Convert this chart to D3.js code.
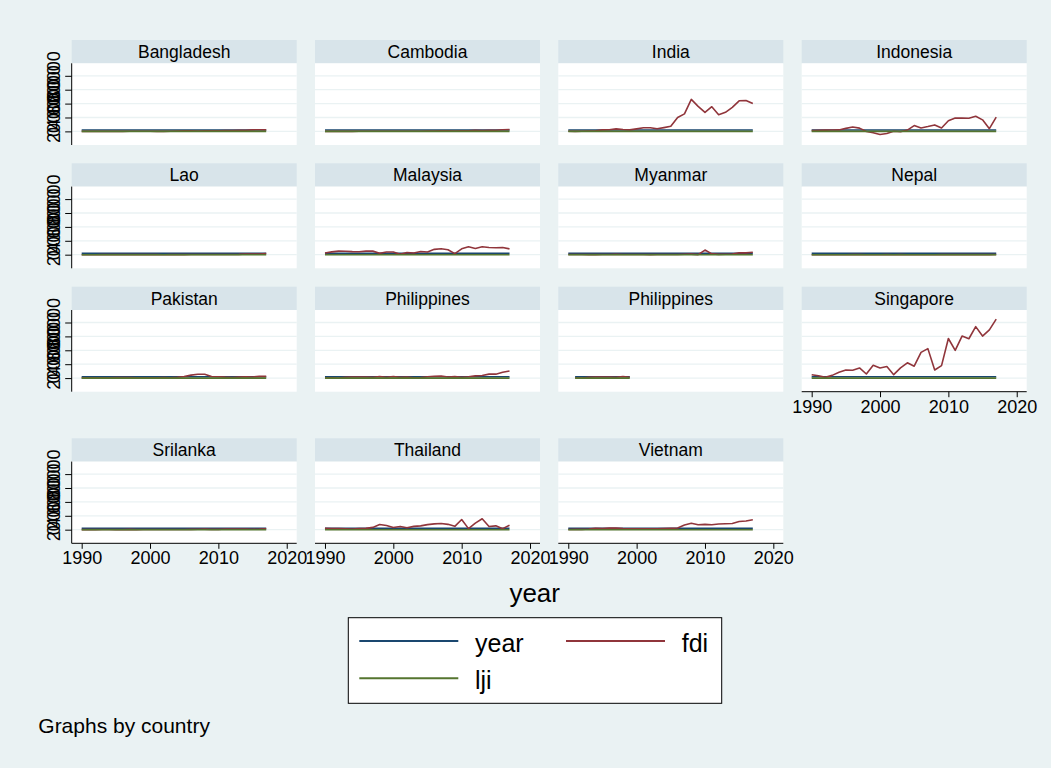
<!DOCTYPE html>
<html>
<head>
<meta charset="utf-8">
<script src="https://cdn.jsdelivr.net/npm/d3@7"></script>
<style>
  html, body { margin: 0; padding: 0; background: #eaf2f3; }
  svg { display: block; font-family: "Liberation Sans", Arial, sans-serif; }
</style>
</head>
<body>
<svg id="chart" width="1051" height="768"></svg>
<script>
// ---- data -------------------------------------------------------------
const countries = ["Bangladesh", "Cambodia", "India", "Indonesia", "Lao", "Malaysia", "Myanmar",
  "Nepal", "Pakistan", "Philippines", "Philippines", "Singapore", "Srilanka", "Thailand", "Vietnam"];

const years = [1990, 1991, 1992, 1993, 1994, 1995, 1996, 1997, 1998, 1999, 2000, 2001, 2002, 2003,
  2004, 2005, 2006, 2007, 2008, 2009, 2010, 2011, 2012, 2013, 2014, 2015, 2016, 2017];
const yearsShort = [1991, 1992, 1993, 1994, 1995, 1996, 1997, 1998, 1999];

// FDI net inflows (US$ millions)
const fdiBangladesh = [3, 1, 4, 14, 11, 2, 14, 139, 190, 180, 280, 79, 52, 268, 449, 813, 697, 652, 1011, 700, 913, 1136, 1293, 1599, 1551, 2235, 2333, 2152];
const fdiCambodia = [0, 0, 33, 54, 69, 151, 294, 168, 243, 232, 149, 149, 145, 84, 131, 381, 483, 867, 815, 539, 783, 902, 1447, 1345, 1720, 1701, 2280, 2788];
const fdiIndia = [240, 75, 280, 550, 970, 2140, 2430, 3580, 2630, 2170, 3580, 5130, 5210, 3680, 5430, 7270, 20030, 25230, 46000, 36000, 27400, 35500, 24000, 27500, 34600, 44000, 44500, 40000];
const fdiIndonesia = [1100, 1480, 1780, 2000, 2110, 4350, 6190, 4680, -240, -1870, -4550, -2980, 150, -600, 1900, 8340, 4910, 6930, 9320, 4880, 15300, 19200, 19100, 18800, 21700, 16600, 3900, 20500];
const fdiLao = [6, 7, 8, 30, 59, 88, 128, 86, 45, 52, 34, 24, 5, 19, 17, 28, 187, 324, 228, 190, 279, 301, 294, 427, 913, 1079, 935, 1693];
const fdiMalaysia = [2330, 4000, 5180, 5000, 4340, 4180, 5080, 5140, 2160, 3900, 3790, 550, 3200, 2470, 4620, 3970, 7690, 8590, 7170, 1450, 8500, 11500, 9000, 11400, 10400, 9900, 10400, 8400];
const fdiMyanmar = [160, 240, 170, 150, 90, 280, 310, 390, 320, 260, 260, 210, 150, 250, 210, 240, 280, 710, 860, 30, 6670, 1120, 500, 580, 950, 2800, 2600, 3600];
const fdiNepal = [6, 2, 4, 0, 7, 1, 19, 23, 12, 4, 0, 21, 6, 15, 0, 2, -7, 6, 1, 39, 88, 94, 92, 71, 30, 52, 106, 198];
const fdiPakistan = [245, 258, 336, 349, 421, 723, 922, 716, 506, 532, 308, 383, 823, 534, 1118, 2201, 4273, 5590, 5438, 2338, 2022, 1326, 859, 1333, 1867, 1621, 2488, 2496];
const fdiPhilippines = [530, 544, 228, 1238, 1591, 1478, 1517, 1261, 2287, 1247, 2240, 982, 1542, 492, 688, 1854, 2707, 2919, 1544, 2065, 1298, 2007, 3215, 3737, 5740, 5639, 8280, 10256];
const fdiPhilippines2 = [544, 228, 1238, 1591, 1478, 1517, 1261, 2287, 1247];
const fdiSingapore = [4900, 3400, 1000, 3900, 8300, 11700, 11200, 14600, 5900, 18500, 14600, 16600, 4900, 14600, 22000, 17100, 37000, 42400, 11700, 18000, 57000, 40000, 60500, 56600, 74100, 60500, 69300, 84900];
const fdiSrilanka = [43, 48, 123, 195, 166, 65, 133, 433, 150, 201, 173, 172, 197, 229, 233, 272, 480, 603, 752, 404, 478, 956, 941, 933, 894, 680, 897, 1373];
const fdiThailand = [2000, 1500, 1800, 1400, 900, 1500, 1900, 3300, 7400, 6000, 3100, 4700, 2800, 4800, 5500, 7300, 8400, 8800, 7700, 4800, 14600, 1500, 9500, 15700, 4600, 5500, 1500, 6500];
const fdiVietnam = [180, 380, 470, 930, 1940, 1780, 2400, 2220, 1670, 1410, 1300, 1300, 1400, 1450, 1610, 1950, 2400, 6700, 9300, 7000, 7600, 7100, 8100, 8500, 9000, 11700, 12600, 14300];

// lji index
const ljiBangladesh = [2.1, 2.1, 2.2, 2.2, 2.3, 2.3, 2.4, 2.4, 2.5, 2.5, 2.6, 2.6, 2.7, 2.7, 2.8, 2.8, 2.9, 2.9, 3.0, 3.0, 3.1, 3.1, 3.2, 3.2, 3.3, 3.3, 3.4, 3.4];
const ljiCambodia = [1.2, 1.2, 1.3, 1.3, 1.4, 1.5, 1.5, 1.6, 1.6, 1.7, 1.8, 1.8, 1.9, 2.0, 2.0, 2.1, 2.2, 2.3, 2.3, 2.4, 2.5, 2.5, 2.6, 2.7, 2.7, 2.8, 2.9, 2.9];
const ljiIndia = [3.0, 3.0, 3.1, 3.1, 3.2, 3.2, 3.3, 3.3, 3.4, 3.4, 3.5, 3.5, 3.6, 3.6, 3.7, 3.7, 3.8, 3.8, 3.9, 3.9, 4.0, 4.0, 4.1, 4.1, 4.2, 4.2, 4.3, 4.3];
const ljiIndonesia = [2.6, 2.6, 2.7, 2.7, 2.8, 2.8, 2.8, 2.7, 2.5, 2.6, 2.7, 2.8, 2.9, 3.0, 3.1, 3.2, 3.3, 3.4, 3.5, 3.5, 3.6, 3.7, 3.7, 3.8, 3.9, 3.9, 4.0, 4.0];
const ljiLao = [1.0, 1.0, 1.1, 1.1, 1.2, 1.2, 1.3, 1.3, 1.3, 1.4, 1.4, 1.5, 1.5, 1.6, 1.6, 1.7, 1.8, 1.8, 1.9, 1.9, 2.0, 2.1, 2.1, 2.2, 2.2, 2.3, 2.3, 2.4];
const ljiMalaysia = [4.1, 4.2, 4.3, 4.4, 4.5, 4.6, 4.7, 4.7, 4.5, 4.6, 4.7, 4.8, 4.9, 5.0, 5.0, 5.1, 5.2, 5.3, 5.3, 5.3, 5.4, 5.5, 5.5, 5.6, 5.7, 5.7, 5.8, 5.9];
const ljiMyanmar = [0.8, 0.8, 0.9, 0.9, 0.9, 1.0, 1.0, 1.0, 1.1, 1.1, 1.1, 1.2, 1.2, 1.2, 1.3, 1.3, 1.3, 1.4, 1.4, 1.5, 1.6, 1.7, 1.8, 1.9, 2.0, 2.1, 2.2, 2.3];
const ljiNepal = [1.5, 1.5, 1.6, 1.6, 1.6, 1.7, 1.7, 1.7, 1.8, 1.8, 1.8, 1.8, 1.9, 1.9, 1.9, 2.0, 2.0, 2.0, 2.1, 2.1, 2.2, 2.2, 2.3, 2.3, 2.4, 2.4, 2.5, 2.5];
const ljiPakistan = [2.4, 2.4, 2.5, 2.5, 2.5, 2.6, 2.6, 2.6, 2.6, 2.6, 2.7, 2.7, 2.8, 2.8, 2.9, 3.0, 3.0, 3.1, 3.1, 3.1, 3.2, 3.2, 3.3, 3.3, 3.4, 3.4, 3.5, 3.5];
const ljiPhilippines = [3.1, 3.1, 3.2, 3.2, 3.3, 3.4, 3.4, 3.5, 3.5, 3.5, 3.6, 3.6, 3.7, 3.7, 3.8, 3.8, 3.9, 3.9, 4.0, 4.0, 4.1, 4.2, 4.2, 4.3, 4.4, 4.4, 4.5, 4.6];
const ljiPhilippines2 = [3.1, 3.2, 3.2, 3.3, 3.4, 3.4, 3.5, 3.5, 3.5];
const ljiSingapore = [6.5, 6.6, 6.7, 6.8, 6.9, 7.0, 7.1, 7.1, 7.0, 7.2, 7.3, 7.3, 7.4, 7.5, 7.6, 7.7, 7.8, 7.9, 7.9, 7.9, 8.1, 8.2, 8.2, 8.3, 8.4, 8.4, 8.5, 8.6];
const ljiSrilanka = [2.7, 2.7, 2.8, 2.8, 2.9, 2.9, 3.0, 3.0, 3.1, 3.1, 3.2, 3.2, 3.3, 3.3, 3.4, 3.4, 3.5, 3.5, 3.6, 3.6, 3.7, 3.7, 3.8, 3.8, 3.9, 3.9, 4.0, 4.0];
const ljiThailand = [3.6, 3.7, 3.8, 3.9, 4.0, 4.1, 4.2, 4.1, 3.9, 4.0, 4.1, 4.2, 4.3, 4.4, 4.5, 4.6, 4.6, 4.7, 4.7, 4.7, 4.8, 4.9, 4.9, 5.0, 5.0, 5.1, 5.1, 5.2];
const ljiVietnam = [1.4, 1.5, 1.6, 1.7, 1.8, 1.9, 2.0, 2.1, 2.1, 2.2, 2.3, 2.4, 2.5, 2.6, 2.7, 2.8, 2.9, 3.0, 3.1, 3.1, 3.2, 3.3, 3.4, 3.5, 3.6, 3.7, 3.8, 3.9];

const xTicks = [1990, 2000, 2010, 2020];
const yTicks = [0, 20000, 40000, 60000, 80000];
const seriesNames = ["year", "fdi", "lji"];
const seriesColors = ["#1a476f", "#90353b", "#55752f"];

// ---- panel assembly ----------------------------------------------------
const fdiByPanel = [fdiBangladesh, fdiCambodia, fdiIndia, fdiIndonesia, fdiLao, fdiMalaysia, fdiMyanmar,
  fdiNepal, fdiPakistan, fdiPhilippines, fdiPhilippines2, fdiSingapore, fdiSrilanka, fdiThailand, fdiVietnam];
const ljiByPanel = [ljiBangladesh, ljiCambodia, ljiIndia, ljiIndonesia, ljiLao, ljiMalaysia, ljiMyanmar,
  ljiNepal, ljiPakistan, ljiPhilippines, ljiPhilippines2, ljiSingapore, ljiSrilanka, ljiThailand, ljiVietnam];

const panels = countries.map((name, i) => {
  const yrs = i === 10 ? yearsShort : years;
  return {
    name,
    idx: i,
    series: [
      yrs.map((yr) => ({ year: yr, v: yr })),
      yrs.map((yr, k) => ({ year: yr, v: fdiByPanel[i][k] })),
      yrs.map((yr, k) => ({ year: yr, v: ljiByPanel[i][k] }))
    ]
  };
});

// ---- layout ------------------------------------------------------------
const colLeft = [71.7, 315, 558.3, 801.7];
const rowTop = [40, 163.3, 286.7, 438.3];
const panelW = 225, headerH = 23.3, plotH = 81.7;
const xAxisPanels = new Set([11, 12, 13, 14]);

const svg = d3.select("#chart");
svg.append("rect").attr("width", 1051).attr("height", 768).attr("fill", "#eaf2f3");

panels.forEach((p) => {
  const row = Math.floor(p.idx / 4), col = p.idx % 4;
  const left = colLeft[col], top = rowTop[row];
  const plotTop = top + headerH, plotBottom = plotTop + plotH;

  const x = d3.scaleLinear().domain([1988.54, 2021.46]).range([left, left + panelW]);
  const y = d3.scaleLinear().domain([-19600, 98000]).range([plotBottom, plotTop]);

  const g = svg.append("g");

  // header strip with the country name
  g.append("rect").attr("x", left).attr("y", top).attr("width", panelW).attr("height", headerH)
    .attr("fill", "#d8e4ea");
  g.append("text").attr("x", left + panelW / 2).attr("y", top + headerH / 2 + 6.2)
    .attr("text-anchor", "middle").attr("font-size", 17.5).attr("fill", "#000").text(p.name);

  // plot region
  g.append("rect").attr("x", left).attr("y", plotTop).attr("width", panelW).attr("height", plotH)
    .attr("fill", "#ffffff");

  // horizontal grid
  g.selectAll(".grid").data(yTicks).join("line")
    .attr("x1", left).attr("x2", left + panelW)
    .attr("y1", (d) => y(d)).attr("y2", (d) => y(d))
    .attr("stroke", "#eaf2f3").attr("stroke-width", 1.3);

  // series lines
  const line = d3.line().x((d) => x(d.year)).y((d) => y(d.v));
  p.series.forEach((s, k) => {
    g.append("path").datum(s).attr("d", line).attr("fill", "none")
      .attr("stroke", seriesColors[k]).attr("stroke-width", 1.6).attr("stroke-linejoin", "round");
  });

  // left axis on the first column
  if (col === 0) {
    const ya = g.append("g").attr("transform", `translate(${left},0)`)
      .call(d3.axisLeft(y).tickValues(yTicks).tickSize(6.5).tickSizeOuter(0).tickFormat(d3.format("d")));
    ya.select(".domain").attr("stroke", "#000").attr("stroke-width", 1)
      .attr("d", `M0,${plotTop}V${plotBottom}`);
    ya.selectAll(".tick line").attr("stroke", "#000");
    ya.selectAll(".tick text")
      .attr("font-size", 18).attr("font-family", "Liberation Sans, Arial, sans-serif").attr("fill", "#000")
      .attr("text-anchor", "middle")
      .attr("x", null).attr("dy", null)
      .attr("transform", "translate(-11.2,0) rotate(-90)");
  }

  // bottom axis on the last panel of each column
  if (xAxisPanels.has(p.idx)) {
    const xa = g.append("g").attr("transform", `translate(0,${plotBottom})`)
      .call(d3.axisBottom(x).tickValues(xTicks).tickSize(5.5).tickSizeOuter(0).tickFormat(d3.format("d")));
    xa.select(".domain").attr("stroke", "#000").attr("stroke-width", 1)
      .attr("d", `M${left},0H${left + panelW}`);
    xa.selectAll(".tick line").attr("stroke", "#000");
    xa.selectAll(".tick text")
      .attr("font-size", 18).attr("font-family", "Liberation Sans, Arial, sans-serif").attr("fill", "#000")
      .attr("y", 21).attr("dy", null);
  }
});

// x axis title
svg.append("text").attr("x", 534.7).attr("y", 601.5).attr("text-anchor", "middle")
  .attr("font-size", 26).attr("fill", "#000").text("year");

// legend
const legend = svg.append("g");
legend.append("rect").attr("x", 348.3).attr("y", 617.7).attr("width", 373.4).attr("height", 85.6)
  .attr("fill", "#ffffff").attr("stroke", "#000").attr("stroke-width", 1);
const legendPos = [
  { kx: 359.3, ky: 641, tx: 475, ty: 651.5 },
  { kx: 566, ky: 641, tx: 681.7, ty: 651.5 },
  { kx: 359.3, ky: 678.3, tx: 475, ty: 688.8 }
];
seriesNames.forEach((name, k) => {
  const pos = legendPos[k];
  legend.append("line").attr("x1", pos.kx).attr("x2", pos.kx + 99).attr("y1", pos.ky).attr("y2", pos.ky)
    .attr("stroke", seriesColors[k]).attr("stroke-width", 2);
  legend.append("text").attr("x", pos.tx).attr("y", pos.ty).attr("font-size", 25).attr("fill", "#000").text(name);
});

// note
svg.append("text").attr("x", 38.3).attr("y", 733.3).attr("font-size", 21).attr("fill", "#000")
  .text("Graphs by country");
</script>
</body>
</html>
